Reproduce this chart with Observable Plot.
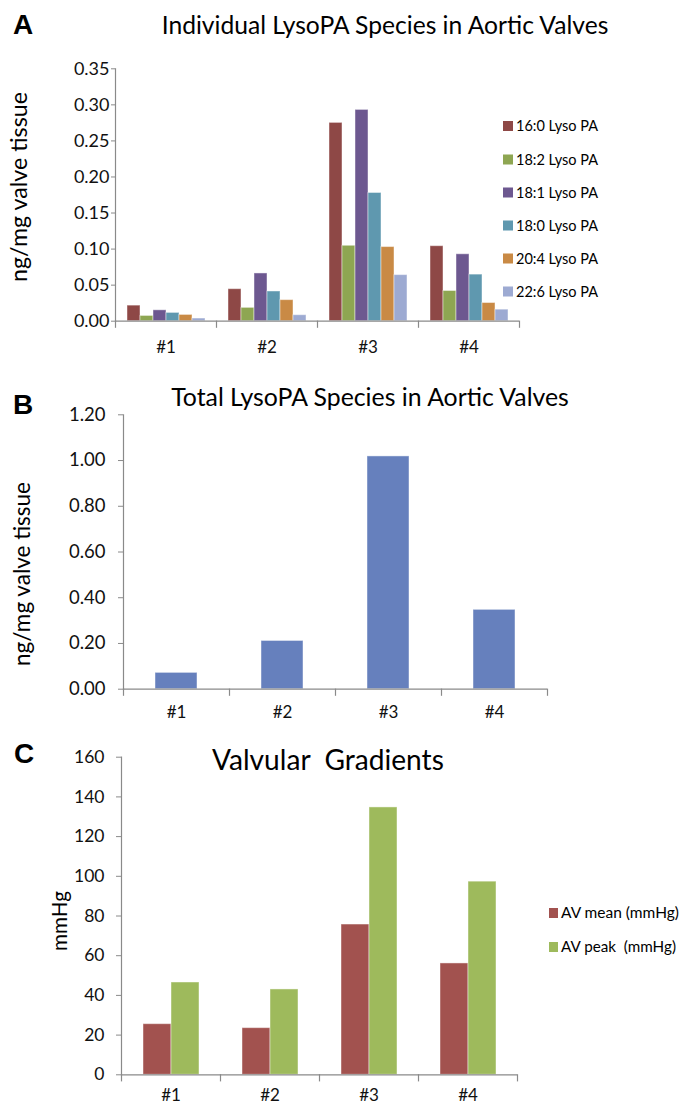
<!DOCTYPE html>
<html><head><meta charset="utf-8">
<script src="https://cdn.jsdelivr.net/npm/d3@7"></script>
<script src="https://cdn.jsdelivr.net/npm/@observablehq/plot@0.6"></script>
<style>
body{margin:0;background:#fff;}
#root{position:relative;width:689px;height:1109px;overflow:hidden;background:#fff;}
</style></head><body><div id="root"></div>
<script>
// ---- data ----
const samples = ["#1", "#2", "#3", "#4"];
const speciesA = ["16:0 Lyso PA", "18:2 Lyso PA", "18:1 Lyso PA", "18:0 Lyso PA", "20:4 Lyso PA", "22:6 Lyso PA"];
const lpa160 = [0.0216, 0.0444, 0.275, 0.104];
const lpa182 = [0.0073, 0.0185, 0.1046, 0.0419];
const lpa181 = [0.0151, 0.0662, 0.293, 0.0928];
const lpa180 = [0.0115, 0.0412, 0.1778, 0.0646];
const lpa204 = [0.0087, 0.0292, 0.1028, 0.0252];
const lpa226 = [0.0037, 0.0083, 0.0639, 0.016];
const colorsA = ["#8E4846", "#8EA652", "#6D5890", "#5F98AF", "#C98A45", "#9DAAD2"];
const ticksA = [0, 0.05, 0.10, 0.15, 0.20, 0.25, 0.30, 0.35];

const seriesB = ["Total LysoPA"];
const totalB = [0.0714, 0.211, 1.018, 0.347];
const colorsB = ["#6680BD"];
const ticksB = [0, 0.2, 0.4, 0.6, 0.8, 1.0, 1.2];

const seriesC = ["AV mean (mmHg)", "AV peak  (mmHg)"];
const avMean = [25.5, 23.5, 75.7, 56.1];
const avPeak = [46.5, 43.0, 134.7, 97.3];
const colorsC = ["#A2524F", "#9EBA5C"];
const ticksC = [0, 20, 40, 60, 80, 100, 120, 140, 160];

function longForm(series, valueArrays) {
  return samples.flatMap((s, i) => series.map((sp, j) => ({sample: s, series: sp, value: valueArrays[j][i]})));
}
const dataA = longForm(speciesA, [lpa160, lpa182, lpa181, lpa180, lpa204, lpa226]);
const dataB = longForm(seriesB, [totalB]);
const dataC = longForm(seriesC, [avMean, avPeak]);

const FONT = "Lato, 'Open Sans', sans-serif";
const AXIS = "#8a8a8a";
const INK = "#111";
const root = document.getElementById("root");

function panel(c) {
  const plotH = c.height - c.mt - c.mb;
  const chart = Plot.plot({
    width: 689, height: c.height,
    marginTop: c.mt, marginBottom: c.mb, marginLeft: c.ml, marginRight: c.mr,
    style: {fontFamily: FONT, background: "transparent", overflow: "visible", color: INK},
    fx: {domain: samples, padding: 0, label: null},
    x: {domain: c.series, paddingInner: 0, paddingOuter: 0.75, axis: null},
    y: {domain: [c.ticks[0], c.ticks[c.ticks.length - 1]], axis: null},
    color: {domain: c.series, range: c.colors},
    marks: [
      Plot.barY(c.data, {fx: "sample", x: "series", y: "value", fill: "series", stroke: "#ffffff", strokeOpacity: 0.45, strokeWidth: 1}),
      Plot.ruleY([0], {stroke: AXIS, strokeWidth: 1.2}),
      Plot.frame({anchor: "left", facetAnchor: "left", stroke: AXIS, strokeWidth: 1.2}),
      Plot.frame({anchor: "left", insetTop: plotH, insetBottom: -6, stroke: AXIS, strokeWidth: 1.2}),
      Plot.frame({anchor: "right", facetAnchor: "right", insetTop: plotH, insetBottom: -6, stroke: AXIS, strokeWidth: 1.2}),
      Plot.axisY({ticks: c.ticks, tickFormat: c.fmt, tickSize: c.tickSize, tickPadding: c.tickPad, fontSize: c.yFont, stroke: AXIS, fill: INK, label: null}),
      Plot.axisFx({anchor: "bottom", tickSize: 0, tickPadding: c.xPad, fontSize: c.xFont, fill: INK, label: null})
    ]
  });
  chart.style.position = "absolute";
  chart.style.left = "0px";
  chart.style.top = c.top + "px";
  root.appendChild(chart);
}

panel({data: dataA, series: speciesA, colors: colorsA, ticks: ticksA, fmt: d3.format(".2f"),
  top: 40, height: 341, mt: 28.3, mb: 60.3, ml: 113, mr: 169, tickSize: 4, tickPad: 2, yFont: 18, xPad: 20, xFont: 17});
panel({data: dataB, series: seriesB, colors: colorsB, ticks: ticksB, fmt: d3.format(".2f"),
  top: 395, height: 340, mt: 19.3, mb: 46.3, ml: 122, mr: 142, tickSize: 5, tickPad: 13, yFont: 18.5, xPad: 17, xFont: 17});
panel({data: dataC, series: seriesC, colors: colorsC, ticks: ticksC, fmt: d3.format("d"),
  top: 740, height: 369, mt: 16.7, mb: 34.7, ml: 120, mr: 172, tickSize: 5, tickPad: 12, yFont: 17.5, xPad: 14, xFont: 17});

// ---- overlay texts & legends ----
const ov = d3.select(root).append("svg")
  .attr("width", 689).attr("height", 1109)
  .style("position", "absolute").style("left", "0px").style("top", "0px")
  .style("font-family", FONT);

function fit(sel, target) {
  const w = sel.node().getComputedTextLength();
  if (w > 0) sel.attr("font-size", parseFloat(sel.attr("font-size")) * target / w);
  return sel;
}
function text(x, y, s, size, anchor = "start", weight = "normal", family = FONT) {
  return ov.append("text").attr("x", x).attr("y", y).attr("font-size", size)
    .attr("text-anchor", anchor).attr("font-weight", weight).attr("font-family", family)
    .attr("fill", "#000").style("white-space", "pre").text(s);
}
function vtext(cx, cy, s, size) {
  return ov.append("text").attr("transform", `translate(${cx},${cy}) rotate(-90)`)
    .attr("font-size", size).attr("text-anchor", "middle").attr("fill", "#000").text(s);
}

// panel letters
const LET = "'Liberation Sans', Arial, sans-serif";
text(13, 34, "A", 28, "start", "bold", LET);
text(13, 414, "B", 28, "start", "bold", LET);
text(14, 763, "C", 28, "start", "bold", LET);

// titles
fit(text(385, 34, "Individual LysoPA Species in Aortic Valves", 22, "middle"), 447);
fit(text(370, 406, "Total LysoPA Species in Aortic Valves", 22, "middle"), 398);
fit(text(212, 770, "Valvular  Gradients", 24, "start"), 232);

// y labels
fit(vtext(27, 187, "ng/mg valve tissue", 19), 190);
fit(vtext(30, 574, "ng/mg valve tissue", 19), 184);
fit(vtext(67, 921, "mmHg", 20), 60);

// legend A
const legA = [126, 159.5, 192.5, 225.5, 258.5, 291.5];
speciesA.forEach((s, i) => {
  ov.append("rect").attr("x", 503).attr("y", legA[i] - 5).attr("width", 10).attr("height", 10).attr("fill", colorsA[i]);
  text(516, legA[i] + 5, s, 14.5);
});
// legend C
const legC = [913, 947];
seriesC.forEach((s, i) => {
  ov.append("rect").attr("x", 549).attr("y", legC[i] - 5).attr("width", 9).attr("height", 10).attr("fill", colorsC[i]);
  fit(text(561, legC[i] + 5, s, 15), i === 0 ? 118 : 115);
});
</script></body></html>
